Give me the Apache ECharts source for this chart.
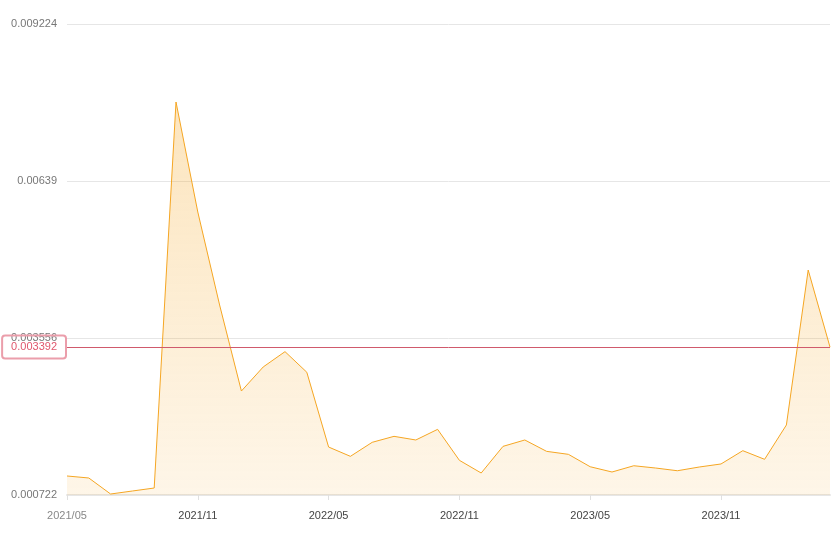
<!DOCTYPE html>
<html>
<head>
<meta charset="utf-8">
<script src="https://cdn.jsdelivr.net/npm/echarts@6/dist/echarts.min.js"></script>
<style>html,body{margin:0;padding:0;background:#fff}#c{width:832px;height:544px}</style>
</head>
<body>
<div id="c"></div>
<script>
const categories = ['2021/05','2021/06','2021/07','2021/08','2021/09','2021/10','2021/11','2021/12',
  '2022/01','2022/02','2022/03','2022/04','2022/05','2022/06','2022/07','2022/08','2022/09','2022/10',
  '2022/11','2022/12','2023/01','2023/02','2023/03','2023/04','2023/05','2023/06','2023/07','2023/08',
  '2023/09','2023/10','2023/11','2023/12','2024/01','2024/02','2024/03','2024/04'];
const values = [0.001065,0.001029,0.00074,0.000794,0.000848,0.007816,0.00583,0.004152,
  0.002599,0.003033,0.003310,0.002938,0.001588,0.001420,0.001673,0.001781,0.001715,0.001907,
  0.001348,0.001119,0.001600,0.001715,0.001510,0.001456,0.001232,0.001137,0.001250,0.001209,
  0.001160,0.001227,0.001282,0.001522,0.001366,0.001986,0.004783,0.003392];
const yTicks = [0.000722, 0.003556, 0.00639, 0.009224];
const refValue = 0.003392;

const chart = echarts.init(document.getElementById('c'));
chart.setOption({
  animation: false,
  grid: {left: 67, right: 2, top: 24, bottom: 49},
  xAxis: {
    type: 'category',
    data: categories,
    boundaryGap: false,
    axisLine: {lineStyle: {color: '#e6e6e6', width: 2}},
    axisTick: {show: true, interval: 5, length: 5, lineStyle: {color: '#e0e0e0'}},
    axisLabel: {
      interval: 5, fontSize: 11, margin: 15,
      color: (v, i) => i === 0 ? '#888' : '#444'
    }
  },
  yAxis: {
    type: 'value',
    min: yTicks[0],
    max: yTicks[yTicks.length - 1],
    interval: yTicks[1] - yTicks[0],
    axisLine: {show: false},
    axisTick: {show: false},
    splitLine: {lineStyle: {color: '#e6e6e6'}},
    axisLabel: {
      fontSize: 11, color: '#777', margin: 10, padding: [0, 0, 4, 0],
      formatter: v => String(parseFloat(v.toFixed(6)))
    }
  },
  series: [{
    type: 'line',
    data: values,
    symbol: 'none',
    z: 2,
    lineStyle: {color: '#f5a623', width: 1},
    itemStyle: {color: '#f5a623'},
    areaStyle: {
      color: new echarts.graphic.LinearGradient(0, 0, 0, 1, [
        {offset: 0, color: 'rgba(245,166,35,0.42)'},
        {offset: 1, color: 'rgba(245,166,35,0.15)'}
      ])
    }
  }, {
    type: 'line',
    data: [],
    z: 5,
    markLine: {
      silent: true,
      symbol: ['none', 'none'],
      animation: false,
      lineStyle: {color: '#d05a6c', type: 'solid', width: 1},
      label: {
        show: true,
        position: 'start',
        distance: 1,
        formatter: '{v|' + refValue + '}',
        rich: {v: {color: '#e0566c', fontSize: 11, textBorderWidth: 0}},
        color: '#e0566c',
        textBorderWidth: 0,
        fontSize: 11,
        backgroundColor: 'transparent',
        borderColor: '#eb9eab',
        borderWidth: 1,
        borderRadius: 3,
        padding: [6, 9, 6, 9]
      },
      data: [[
        {coord: [categories[0], refValue]},
        {coord: [categories[categories.length - 1], refValue]}
      ]]
    }
  }]
});
</script>
</body>
</html>
